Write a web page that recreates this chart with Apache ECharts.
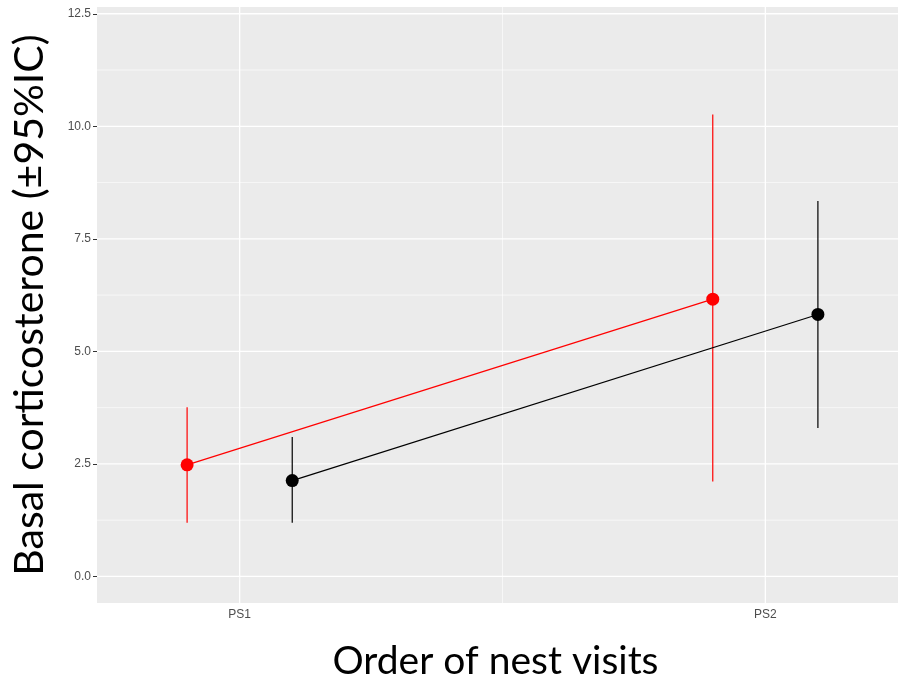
<!DOCTYPE html>
<html>
<head>
<meta charset="utf-8">
<script src="https://cdn.jsdelivr.net/npm/echarts@6/dist/echarts.min.js"></script>
<style>
  html, body { margin: 0; padding: 0; background: #fff; }
  #main { width: 898px; height: 682px; }
</style>
</head>
<body>
<div id="main"></div>
<script>
// categories and their position on the x scale (1 = PS1, 2 = PS2)
var categories = ['PS1', 'PS2'];
var categoryPos = [1, 2];
var dodge = 0.1;

// red group (left of each category), black group (right)
var redMean = [2.48, 6.16];
var redLow = [1.19, 2.11];
var redHigh = [3.76, 10.26];

var blackMean = [2.13, 5.82];
var blackLow = [1.19, 3.30];
var blackHigh = [3.10, 8.34];

var yTicks = [0, 2.5, 5, 7.5, 10, 12.5];
var yMinor = [1.25, 3.75, 6.25, 8.75, 11.25];
var xMinor = [1.5];

function pts(means, offset) {
    return means.map(function (v, i) { return [categoryPos[i] + offset, v]; });
}
function bars(lows, highs, offset) {
    return lows.map(function (v, i) { return [categoryPos[i] + offset, v, highs[i]]; });
}

function errorSeries(data, color) {
    return {
        type: 'custom',
        silent: true,
        z: 3,
        data: data,
        renderItem: function (params, api) {
            var a = api.coord([api.value(0), api.value(1)]);
            var b = api.coord([api.value(0), api.value(2)]);
            return {
                type: 'line',
                shape: { x1: a[0], y1: a[1], x2: b[0], y2: b[1] },
                style: { stroke: color, lineWidth: 1.2 }
            };
        }
    };
}

function lineSeries(data, color) {
    return {
        type: 'line',
        data: data,
        z: 4,
        symbol: 'circle',
        symbolSize: 13,
        itemStyle: { color: color },
        lineStyle: { color: color, width: 1.2 },
        silent: true
    };
}

// white panel grid lines: [orientation, value, width]
var gridData = [];
yTicks.forEach(function (v) { gridData.push([0, v, 1.3]); });
yMinor.forEach(function (v) { gridData.push([0, v, 0.6]); });
categoryPos.forEach(function (v) { gridData.push([1, v, 1.3]); });
xMinor.forEach(function (v) { gridData.push([1, v, 0.6]); });

function gridSeries() {
    return {
        type: 'custom',
        silent: true,
        z: 1,
        data: gridData,
        encode: { x: -1, y: -1 },
        renderItem: function (params, api) {
            var cs = params.coordSys;
            var v = api.value(1);
            var shape;
            if (api.value(0) === 0) {
                var y = api.coord([1.5, v])[1];
                shape = { x1: cs.x, y1: y, x2: cs.x + cs.width, y2: y };
            } else {
                var x = api.coord([v, 5])[0];
                shape = { x1: x, y1: cs.y, x2: x, y2: cs.y + cs.height };
            }
            return { type: 'line', shape: shape, style: { stroke: '#ffffff', lineWidth: api.value(2) } };
        }
    };
}

var chart = echarts.init(document.getElementById('main'));
chart.setOption({
    animation: false,
    backgroundColor: '#ffffff',
    grid: {
        left: 97, top: 7, width: 811, height: 596,
        outerBoundsMode: 'none',
        containLabel: false,
        show: true, backgroundColor: '#EBEBEB', borderWidth: 0
    },
    xAxis: {
        type: 'value',
        min: 0.7286, max: 2.2714,
        axisLine: { show: false },
        splitLine: { show: false },
        axisTick: { show: true, length: 4, customValues: categoryPos, lineStyle: { color: '#333333' } },
        axisLabel: {
            customValues: categoryPos,
            color: '#4D4D4D', fontSize: 12, fontFamily: 'Liberation Sans', margin: 6,
            formatter: function (v) { return categories[categoryPos.indexOf(v)]; }
        },
        name: 'Order of nest visits',
        nameLocation: 'middle',
        nameGap: 39,
        nameTextStyle: { color: '#000', fontSize: 39, fontFamily: 'Lato', padding: [0, 14, 0, 0] }
    },
    yAxis: {
        type: 'value',
        min: -0.59, max: 12.65,
        axisLine: { show: false },
        splitLine: { show: false },
        axisTick: { show: true, length: 4, customValues: yTicks, lineStyle: { color: '#333333' } },
        axisLabel: {
            customValues: yTicks,
            color: '#4D4D4D', fontSize: 12, fontFamily: 'Liberation Sans', margin: 6,
            formatter: function (v) { return v.toFixed(1); }
        },
        name: 'Basal corticosterone (\u00b195%IC)',
        nameLocation: 'middle',
        nameGap: 47,
        nameTextStyle: { color: '#000', fontSize: 41, fontFamily: 'Lato' }
    },
    series: [
        gridSeries(),
        errorSeries(bars(redLow, redHigh, -dodge), '#FF0000'),
        errorSeries(bars(blackLow, blackHigh, dodge), '#000000'),
        lineSeries(pts(redMean, -dodge), '#FF0000'),
        lineSeries(pts(blackMean, dodge), '#000000')
    ]
});
</script>
</body>
</html>
